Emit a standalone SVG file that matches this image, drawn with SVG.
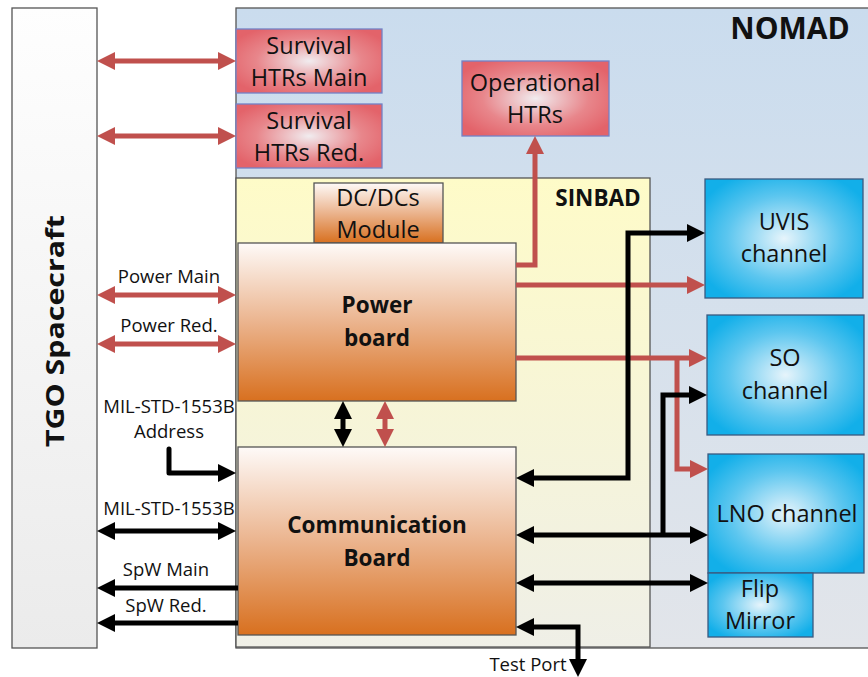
<svg xmlns="http://www.w3.org/2000/svg" width="868" height="677" viewBox="0 0 868 677">
<defs>
<linearGradient id="gTGO" x1="0" y1="0" x2="0" y2="1"><stop offset="0" stop-color="#fefefe"/><stop offset="1" stop-color="#ebebeb"/></linearGradient>
<linearGradient id="gNOMAD" x1="0" y1="0" x2="0" y2="1"><stop offset="0" stop-color="#cadcee"/><stop offset="1" stop-color="#e2e5ea"/></linearGradient>
<linearGradient id="gSIN" x1="0" y1="0" x2="0" y2="1"><stop offset="0" stop-color="#fefbc8"/><stop offset="1" stop-color="#efefe7"/></linearGradient>
<linearGradient id="gOr" x1="0" y1="0" x2="0" y2="1"><stop offset="0" stop-color="#fefaf8"/><stop offset="0.5" stop-color="#ebb48e"/><stop offset="1" stop-color="#d8701f"/></linearGradient>
<radialGradient id="gRed" cx="0.5" cy="0.5" r="0.6"><stop offset="0" stop-color="#f1ecef"/><stop offset="0.6" stop-color="#e8868b"/><stop offset="1" stop-color="#e3636a"/></radialGradient>
<radialGradient id="gBlue" cx="0.5" cy="0.5" r="0.6"><stop offset="0" stop-color="#e6f4fb"/><stop offset="0.6" stop-color="#5cc6ef"/><stop offset="1" stop-color="#12afe9"/></radialGradient>
<marker id="aR" viewBox="0 0 18 18" refX="4" refY="9" markerWidth="18" markerHeight="18" markerUnits="userSpaceOnUse" orient="auto-start-reverse"><path d="M0,0 L18,9 L0,18 z" fill="#c0504d"/></marker>
<marker id="aK" viewBox="0 0 18 18" refX="4" refY="9" markerWidth="18" markerHeight="18" markerUnits="userSpaceOnUse" orient="auto-start-reverse"><path d="M0,0 L18,9 L0,18 z" fill="#000"/></marker>
</defs>
<style>
.t{font-family:"Open Sans","Liberation Sans",sans-serif;fill:#111;text-anchor:middle}
.b{font-weight:bold}
.n{font-size:23.5px}
.l{font-size:18.5px}
.bb{font-size:22.5px;font-weight:bold}
.box{stroke:#555;stroke-width:1.3}
.red{fill:url(#gRed);stroke:#7282c6;stroke-width:1.3}
.blue{fill:url(#gBlue);stroke:#3a5a80;stroke-width:1.3}
.or{fill:url(#gOr);stroke:#555;stroke-width:1.3}
.cr{fill:none;stroke:#c0504d;stroke-width:5;marker-end:url(#aR)}
.crr{marker-start:url(#aR)}
.ck{fill:none;stroke:#000;stroke-width:5;marker-end:url(#aK)}
.ckk{marker-start:url(#aK)}
</style>
<rect width="868" height="677" fill="#fff"/>
<g id="tgo"><rect x="12" y="8" width="85" height="640" fill="url(#gTGO)" class="box"/>
<text class="t b" transform="translate(64,331) rotate(-90)" font-size="25" textLength="232" lengthAdjust="spacingAndGlyphs">TGO Spacecraft</text></g>
<g id="nomad"><rect x="236" y="8" width="640" height="640" fill="url(#gNOMAD)" class="box"/>
<text class="t b" x="790" y="39" font-size="30">NOMAD</text></g>
<g id="sinbad"><rect x="236" y="178" width="414" height="469" fill="url(#gSIN)" class="box"/>
<text class="t b" x="598" y="206" font-size="22.5">SINBAD</text></g>
<g id="surv-main"><rect x="236" y="29" width="146" height="64" class="red"/>
<text class="t n" x="309" y="54">Survival</text><text class="t n" x="309" y="86">HTRs Main</text></g>
<g id="surv-red"><rect x="236" y="104" width="146" height="64" class="red"/>
<text class="t n" x="309" y="129">Survival</text><text class="t n" x="309" y="161">HTRs Red.</text></g>
<g id="op-htrs"><rect x="462" y="61" width="147" height="75" class="red"/>
<text class="t n" x="535" y="91">Operational</text><text class="t n" x="535" y="123">HTRs</text></g>
<g id="dcdc"><rect x="314" y="183" width="129" height="60" class="or"/>
<text class="t n" x="378" y="206">DC/DCs</text><text class="t n" x="378" y="238">Module</text></g>
<g id="power"><rect x="238" y="243" width="278" height="158" class="or"/>
<text class="t bb" x="377" y="313">Power</text><text class="t bb" x="377" y="346">board</text></g>
<g id="comm"><rect x="238" y="447" width="278" height="188" class="or"/>
<text class="t bb" x="377" y="533">Communication</text><text class="t bb" x="377" y="566">Board</text></g>
<g id="uvis"><rect x="705" y="179" width="158" height="119" class="blue"/>
<text class="t n" x="784" y="230">UVIS</text><text class="t n" x="784" y="262">channel</text></g>
<g id="so"><rect x="707" y="315" width="157" height="120" class="blue"/>
<text class="t n" x="785" y="366">SO</text><text class="t n" x="785" y="399">channel</text></g>
<g id="lno"><rect x="708" y="454" width="156" height="119" class="blue"/>
<text class="t n" x="787" y="522">LNO channel</text></g>
<g id="flip"><rect x="708" y="573" width="105" height="64" class="blue"/>
<text class="t n" x="760" y="597">Flip</text><text class="t n" x="760" y="629">Mirror</text></g>
<g id="connectors">
<path class="cr crr" d="M111,61 H222"/>
<path class="cr crr" d="M111,136 H222"/>
<path class="cr crr" d="M111,295 H222"/>
<path class="cr crr" d="M111,344 H222"/>
<path class="cr crr" d="M385,415 V433"/>
<path class="cr" d="M516,265 H535 V150"/>
<path class="cr" d="M516,285 H691"/>
<path class="cr" d="M516,358 H693"/>
<path class="cr" d="M677,358 V469 H694"/>
<path class="ck" d="M169,449 V473 H222" stroke-linecap="round" stroke-linejoin="round"/>
<path class="ck ckk" d="M111,531 H222"/>
<path class="ck" d="M238,588 H111"/>
<path class="ck" d="M238,623 H111"/>
<path class="ck ckk" d="M343,415 V433"/>
<path class="ck ckk" d="M530,478 H628 V233 H691"/>
<path class="ck ckk" d="M530,535 H694"/>
<path class="ck" d="M663,535 V395 H693"/>
<path class="ck ckk" d="M530,583 H694"/>
<path class="ck ckk" d="M530,627 H578 V663"/>
</g>
<g id="labels">
<text class="t l" x="169" y="283">Power Main</text>
<text class="t l" x="169" y="332">Power Red.</text>
<text class="t l" x="169" y="413">MIL-STD-1553B</text>
<text class="t l" x="169" y="438">Address</text>
<text class="t l" x="169" y="515">MIL-STD-1553B</text>
<text class="t l" x="166" y="576">SpW Main</text>
<text class="t l" x="166" y="612">SpW Red.</text>
<text class="t l" x="528" y="671">Test Port</text>
</g>
</svg>
